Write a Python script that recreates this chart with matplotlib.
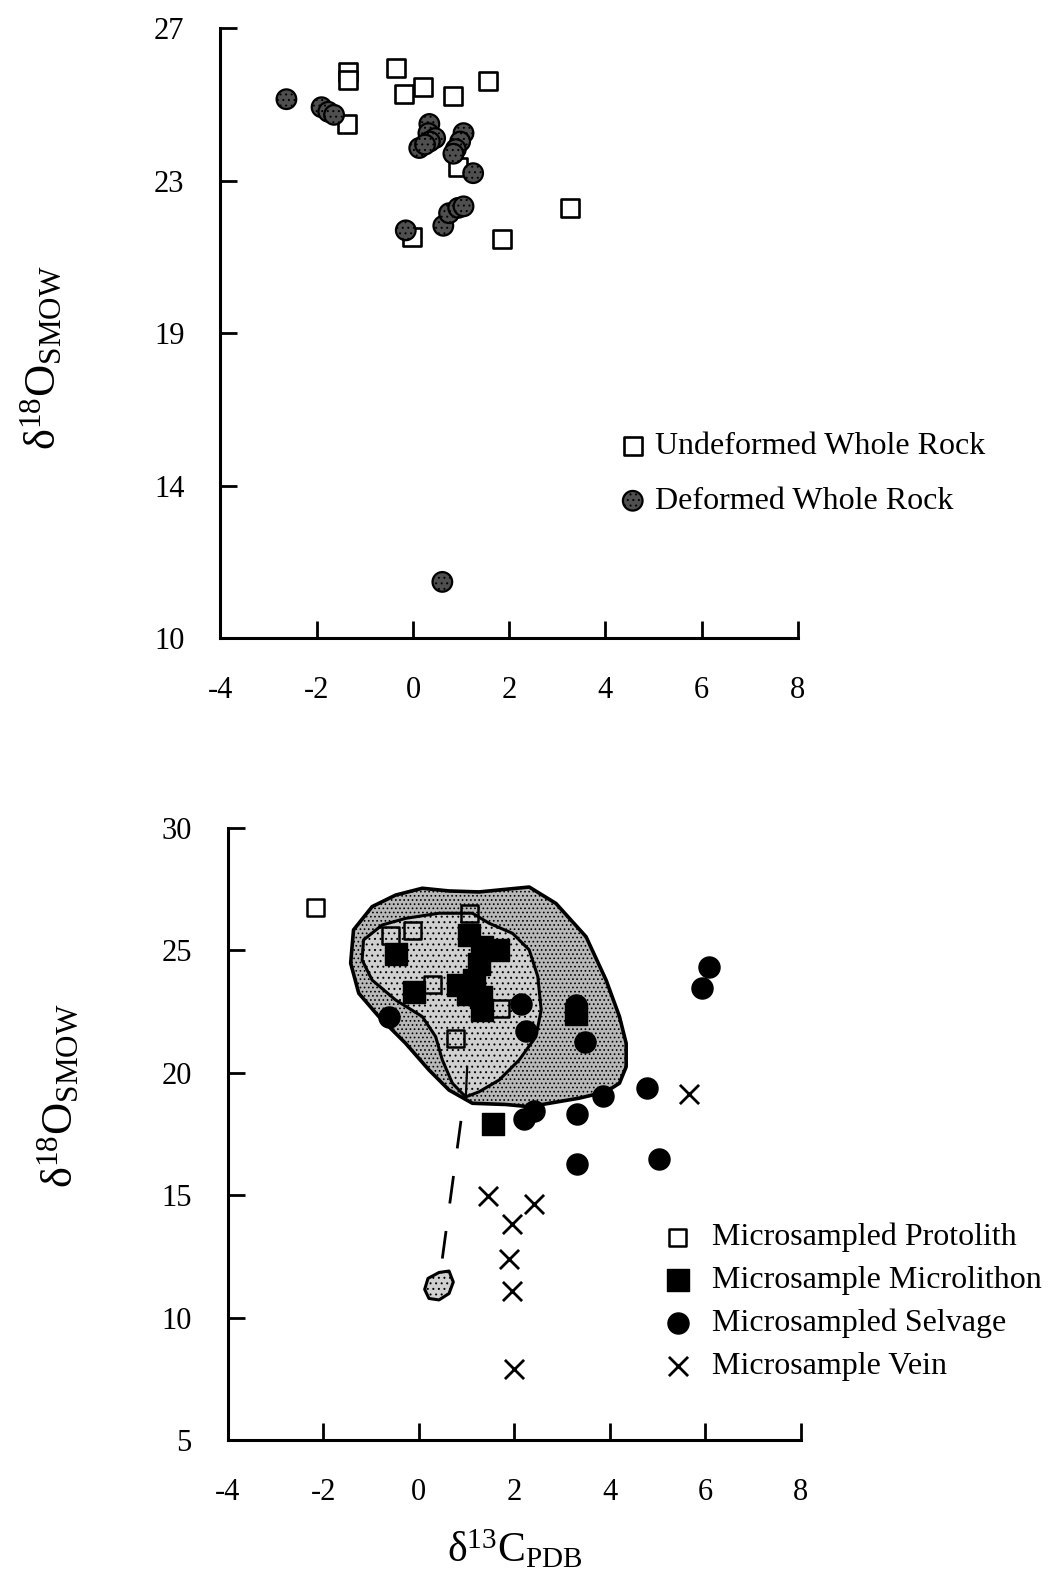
import numpy as np
import matplotlib
matplotlib.use('Agg')
import matplotlib.pyplot as plt
from matplotlib.patches import Polygon

plt.rcParams['font.family'] = ['Liberation Serif', 'DejaVu Serif']
plt.rcParams['mathtext.fontset'] = 'custom'
plt.rcParams['mathtext.rm'] = 'Liberation Serif'
plt.rcParams['mathtext.it'] = 'Liberation Serif:italic'
plt.rcParams['hatch.linewidth'] = 0.7
plt.rcParams['hatch.color'] = '#444444'

# --- whole rock samples (upper panel) ---
undef_c = [-1.35, -1.35, -0.36, -0.19, 0.20, 0.84, 1.55, -1.37, 0.94, -0.03, 1.86, 3.27]
undef_o = [25.85, 25.64, 25.96, 25.27, 25.45, 25.23, 25.61, 24.48, 23.37, 21.53, 21.48, 22.28]

def_c = [-2.63, -1.90, -1.76, -1.64,
         0.34, 0.32, 0.46, 0.35, 0.13, 0.25,
         1.05, 0.98, 0.89, 0.84, 1.25,
         -0.15, 0.63, 0.75, 0.94, 1.05,
         0.61]
def_o = [25.14, 24.93, 24.81, 24.73,
         24.49, 24.25, 24.12, 24.03, 23.86, 23.95,
         24.25, 24.03, 23.83, 23.71, 23.20,
         21.70, 21.82, 22.15, 22.29, 22.33,
         11.48]

# --- microsamples (lower panel) ---
proto_c = [-2.17, -0.60, -0.14, 1.05, 0.29, 1.71, 0.77]
proto_o = [26.75, 25.59, 25.82, 26.48, 23.59, 22.61, 21.38]

micro_c = [-0.49, -0.11, 1.05, 1.33, 1.65, 1.26, 0.81, 1.16, 1.30, 1.33, 1.02, 3.28, 1.56]
micro_o = [24.86, 23.29, 25.61, 25.13, 25.00, 24.45, 23.57, 23.77, 23.09, 22.54, 23.23, 22.40, 17.89]

selv_c = [-0.63, 2.14, 2.25, 3.47, 6.07, 5.93, 4.77, 3.86, 2.42, 2.19, 3.31, 3.32, 5.02, 3.28]
selv_o = [22.27, 22.79, 21.72, 21.24, 24.32, 23.47, 19.37, 19.06, 18.44, 18.10, 18.33, 16.25, 16.48, 22.75]

vein_c = [5.65, 1.45, 2.40, 1.95, 1.89, 1.95, 2.00]
vein_o = [19.13, 14.96, 14.62, 13.81, 12.39, 11.10, 7.90]

# outlined fields on the lower panel
outer_c = [0.07, -0.49, -0.98, -1.37, -1.43, -1.26, -0.84, -0.28, 0.21, 0.63, 1.12, 1.82,
           2.31, 3.36, 3.92, 4.20, 4.34, 4.34, 4.20, 3.92, 3.50, 2.87, 2.31, 1.26, 0.63]
outer_o = [27.53, 27.25, 26.78, 25.83, 24.47, 23.24, 22.29, 21.20, 20.11, 19.29, 18.75, 18.70,
           18.61, 18.96, 19.22, 19.57, 20.24, 21.20, 22.29, 23.78, 25.55, 26.91, 27.58, 27.38, 27.42]
inner_c = [-0.77, -1.16, -1.19, -0.98, -0.49, 0.07, 0.35, 0.49, 0.70, 0.98, 1.26, 1.68,
           2.10, 2.45, 2.56, 2.49, 2.31, 1.96, 1.47, 1.12, 0.42, -0.28]
inner_o = [26.03, 25.42, 24.60, 23.78, 22.97, 22.29, 21.47, 20.52, 19.57, 19.01, 19.22, 19.70,
           20.52, 21.47, 22.56, 23.92, 25.01, 25.69, 26.10, 26.51, 26.51, 26.30]
stem_c = [1.01, 0.98]
stem_o = [20.24, 18.89]
lens_c = [0.63, 0.72, 0.63, 0.42, 0.21, 0.12, 0.19, 0.42]
lens_o = [11.90, 11.45, 10.98, 10.72, 10.78, 11.15, 11.60, 11.84]
trend_c = [0.88, 0.48]
trend_o = [18.03, 12.27]

top_ticks = [10, 14, 19, 23, 27]
bot_ticks = [5, 10, 15, 20, 25, 30]
x_ticks = [-4, -2, 0, 2, 4, 6, 8]

ylab = r'$\mathrm{\delta}^{\mathrm{18}}\mathrm{O}_{\mathrm{SMOW}}$'
xlab = r'$\mathrm{\delta}^{\mathrm{13}}\mathrm{C}_{\mathrm{PDB}}$'

fig = plt.figure(figsize=(10.49, 15.8), dpi=100)
ax1 = fig.add_axes([0.2102, 0.5960, 0.5505, 0.3861])
ax2 = fig.add_axes([0.2173, 0.0886, 0.5462, 0.3875])

# top panel: tick labels sit at equal spacing, so map them piecewise
pos = np.arange(len(top_ticks), dtype=float)
def fwd(v):
    return np.interp(v, top_ticks, pos)
def inv(u):
    return np.interp(u, pos, top_ticks)
ax1.set_yscale('function', functions=(fwd, inv))

ax1.scatter(undef_c, undef_o, s=165, marker='s', facecolor='white', edgecolor='black',
            linewidth=1.9, zorder=3, label='Undeformed Whole Rock')
ax1.scatter(def_c, def_o, s=200, marker='o', facecolor='#4f4f4f', edgecolor='black',
            linewidth=1.6, hatch='...', zorder=4, label='Deformed Whole Rock')
ax1.set_xlim(-4, 8)
ax1.set_ylim(10, 27)
ax1.set_yticks(top_ticks)
ax1.set_yticklabels([str(t) for t in top_ticks])

# bottom panel
ax2.add_patch(Polygon(np.column_stack([outer_c, outer_o]), closed=True, facecolor='#b8b8b8',
                      edgecolor='black', linewidth=2.6, hatch='....', joinstyle='round', zorder=1))
ax2.add_patch(Polygon(np.column_stack([inner_c, inner_o]), closed=True, facecolor='#d0d0d0',
                      edgecolor='black', linewidth=2.2, hatch='...', joinstyle='round', zorder=1.5))
ax2.plot(stem_c, stem_o, color='black', linewidth=1.6, zorder=1.6)
ax2.add_patch(Polygon(np.column_stack([lens_c, lens_o]), closed=True, facecolor='#d0d0d0',
                      edgecolor='black', linewidth=2.2, hatch='...', joinstyle='round', zorder=1))
ax2.plot(trend_c, trend_o, color='black', linewidth=2, linestyle=(0, (10, 10)), zorder=1)

ax2.scatter(proto_c, proto_o, s=150, marker='s', facecolor='none', edgecolor='black',
            linewidth=1.8, zorder=3, label='Microsampled Protolith')
ax2.scatter(micro_c, micro_o, s=230, marker='s', facecolor='black', edgecolor='black',
            linewidth=1, zorder=3, label='Microsample Microlithon')
ax2.scatter(selv_c, selv_o, s=230, marker='o', facecolor='black', edgecolor='black',
            linewidth=1, zorder=3, label='Microsampled Selvage')
ax2.scatter(vein_c, vein_o, s=190, marker='x', color='black', linewidth=2, zorder=3,
            label='Microsample Vein')
ax2.set_xlim(-4, 8)
ax2.set_ylim(5, 30)
ax2.set_yticks(bot_ticks)

for ax in (ax1, ax2):
    ax.set_xticks(x_ticks)
    ax.set_xticklabels([str(t) for t in x_ticks])
    ax.spines['top'].set_visible(False)
    ax.spines['right'].set_visible(False)
    ax.spines['left'].set_linewidth(2.2)
    ax.spines['bottom'].set_linewidth(2.2)
    ax.tick_params(direction='in', length=12, width=2, labelsize=22)
    ax.tick_params(axis='x', pad=27)
    ax.tick_params(axis='y', pad=26)
    ax.minorticks_off()
    ax.set_ylabel(ylab, fontsize=32)

ax1.yaxis.set_label_coords(-0.272, 0.46)
ax2.yaxis.set_label_coords(-0.258, 0.562)
ax2.set_xlabel(xlab, fontsize=30)
ax2.xaxis.set_label_coords(0.5, -0.145)

ax1.legend(loc='center left', bbox_to_anchor=(0.591, 0.70), bbox_transform=fig.transFigure,
           frameon=False, fontsize=23, handlelength=0.8, handletextpad=0.3,
           labelspacing=0.8, borderpad=0, borderaxespad=0, scatterpoints=1)
ax2.legend(loc='center left', bbox_to_anchor=(0.634, 0.176), bbox_transform=fig.transFigure,
           frameon=False, fontsize=23, handlelength=0.8, handletextpad=0.67,
           labelspacing=0.42, borderpad=0, borderaxespad=0, scatterpoints=1)

fig.savefig('out.png', dpi=100)
